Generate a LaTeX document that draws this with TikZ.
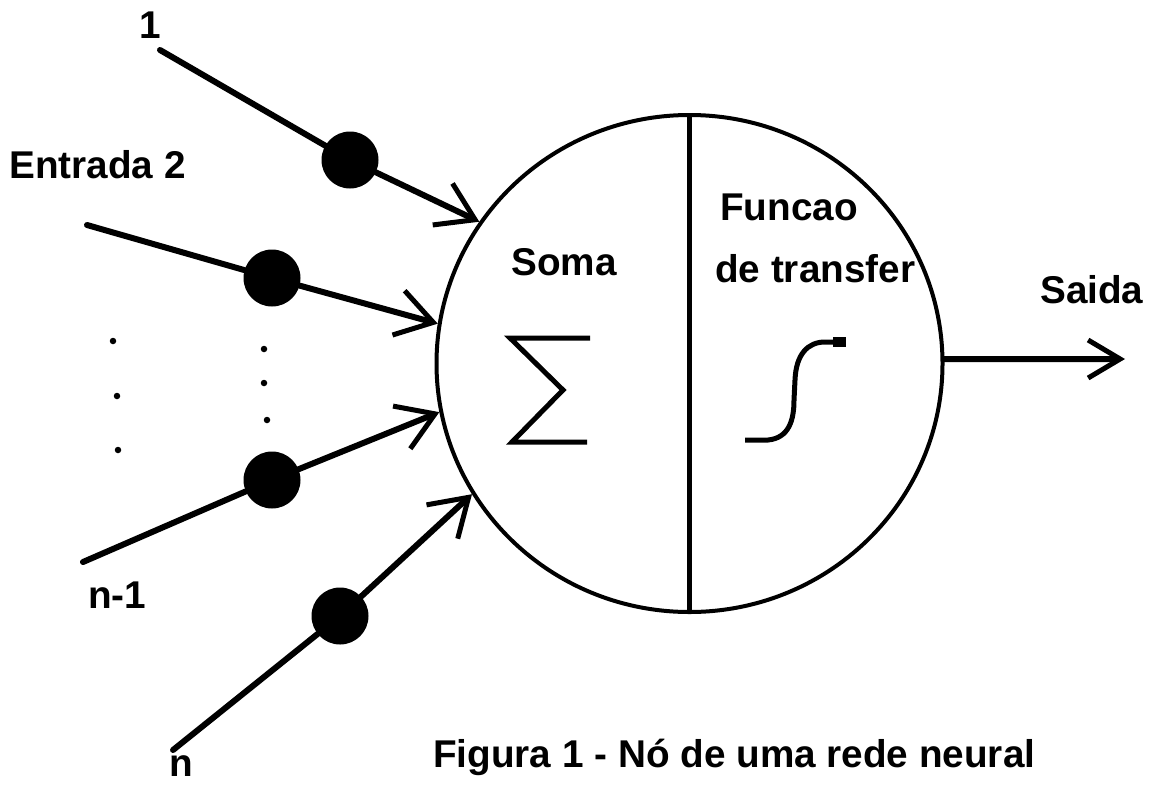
\documentclass[tikz,border=0pt]{standalone}
\usepackage{fontspec}
\setmainfont{Liberation Sans}
\usetikzlibrary{shapes.geometric,arrows.meta}
\tikzset{
  lbl/.style={inner sep=0pt, anchor=base west, font=\fontsize{38.7}{46}\selectfont\bfseries},
  wire/.style={line width=6pt, line cap=round},
  arr/.style={wire, -{Straight Barb[length=36pt, width=46pt, line width=5pt]}},
  weight/.style={circle, fill=black, draw=none, minimum size=57pt, inner sep=0pt},
  tiny/.style={circle, fill=black, minimum size=6.5pt, inner sep=0pt},
  neuron/.style={ellipse, draw, line width=4pt, minimum width=506pt, minimum height=497pt, inner sep=0pt},
  glyph/.style={line width=5pt}
}
\begin{document}
\begin{tikzpicture}[x=1pt,y=-1pt]
\useasboundingbox (0,0) rectangle (1153,785);
% neuron
\node[neuron] (neuron) at (689.5,363.5) {};
\draw[line width=5pt] (neuron.north) -- (neuron.south);
% inputs
\coordinate (s1) at (160,50);
\coordinate (s2) at (87,225);
\coordinate (s3) at (83,562);
\coordinate (s4) at (173,750);
\node[weight] (d1) at (350,160) {};
\node[weight] (d2) at (272,278) {};
\node[weight] (d3) at (272,480) {};
\node[weight] (d4) at (340,616) {};
\draw[wire] (s1) -- (d1);
\draw[wire] (s2) -- (d2);
\draw[wire] (s3) -- (d3);
\draw[wire] (s4) -- (d4);
\draw[arr] (d1) -- (neuron.146.6);
\draw[arr] (d2) -- (neuron.171.6);
\draw[arr] (d3) -- (neuron.191.7);
\draw[arr] (d4) -- (neuron.211.5);
% ellipsis dots
\node[tiny] (e1) at (113,341) {};
\node[tiny] (e2) at (117,396) {};
\node[tiny] (e3) at (118,450) {};
\node[tiny] (e4) at (264,349) {};
\node[tiny] (e5) at (264,383) {};
\node[tiny] (e6) at (267,420) {};
% output
\coordinate (out) at (1125,359);
\draw[wire, -{Straight Barb[length=32pt, width=38pt, line width=5pt]}] (neuron.1) -- (out);
% sigma
\draw[glyph, line join=miter] (590,338) -- (510,338) -- (563,390) -- (512,442) -- (587,442);
% sigmoid
\draw[glyph] (745,440) -- (768,440) .. controls (789,438) and (794,420) .. (794,400) -- (795,380) .. controls (796,354) and (808,342) .. (825,342) -- (840,342);
\fill (833,337) rectangle (846,347);
% labels
\node[lbl, anchor=base] (l1) at (150,38) {1};
\node[lbl] (l2) at (9,178) {Entrada 2};
\node[lbl] (ln1) at (88,608) {n-1};
\node[lbl, anchor=base] (ln) at (181,776) {n};
\node[lbl] (soma) at (511,275) {Soma};
\node[lbl] (func) at (720,220) {Funcao};
\node[lbl] (transf) at (715,282) {de transfer};
\node[lbl] (saida) at (1040,303) {Saida};
\node[lbl] (cap) at (433,767) {Figura 1 - Nó de uma rede neural};
\end{tikzpicture}
\end{document}
